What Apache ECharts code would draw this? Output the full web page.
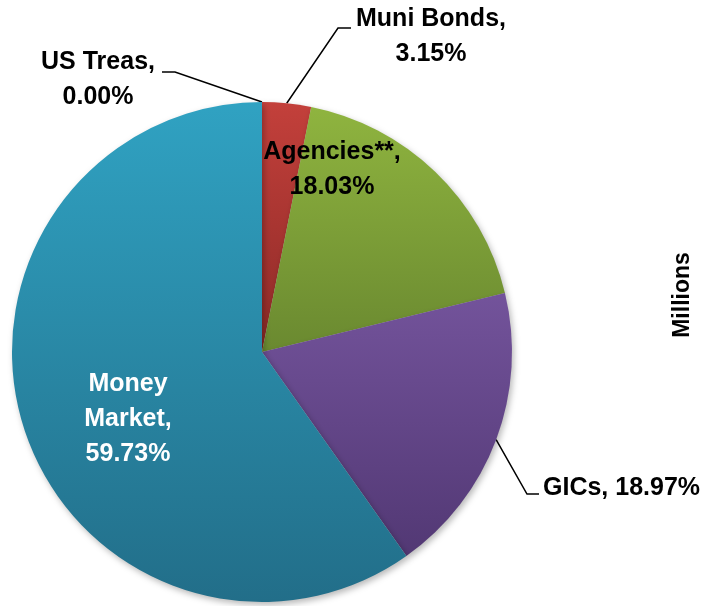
<!DOCTYPE html>
<html>
<head>
<meta charset="utf-8">
<script src="https://cdn.jsdelivr.net/npm/echarts@6/dist/echarts.min.js"></script>
<style>
  html, body { margin: 0; padding: 0; background: #ffffff; }
  #chart { width: 703px; height: 606px; }
</style>
</head>
<body>
<div id="chart"></div>
<script>
// Portfolio allocation by instrument type (percent of total)
const categories = ['US Treas', 'Muni Bonds', 'Agencies**', 'GICs', 'Money Market'];
const shares = [0.00, 3.15, 18.03, 18.97, 59.73];
const unitTitle = 'Millions';

// label text: how the name is wrapped and what separates it from the value
const labelNames = ['US Treas', 'Muni Bonds', 'Agencies**', 'GICs', 'Money\nMarket'];
const labelSeparators = ['\n', '\n', '\n', ' ', '\n'];

// vertical shading per slice
const topColors = ['#4a7cbb', '#c3403b', '#8fb43f', '#73539b', '#30a2c2'];
const bottomColors = ['#2f5688', '#8d2a27', '#6a8930', '#523874', '#226e89'];

const FONT = 'Liberation Sans';
const CX = 262, CY = 352, R = 250;

// label anchor and leader line bends
const placements = [
  { x: 98,  y: 80,  align: 'center', line: [[175, 72], [162, 72]] },
  { x: 431, y: 37,  align: 'center', line: [[338, 28], [351, 28]] },
  { x: 332, y: 170, align: 'center' },
  { x: 543, y: 488, align: 'left',   line: [[527, 494], [539, 494]] },
  { x: 128, y: 419, align: 'center' }
];

const total = shares.reduce((a, b) => a + b, 0);
function edgePoint(i) {
  let before = 0;
  for (let k = 0; k < i; k++) before += shares[k];
  const frac = (before + shares[i] / 2) / total;
  const theta = (90 - frac * 360) * Math.PI / 180;
  return [CX + R * Math.cos(theta), CY - R * Math.sin(theta)];
}

const seriesData = categories.map((name, i) => {
  const inside = (i === 2 || i === 4);
  return {
    name: name,
    value: shares[i],
    itemStyle: {
      color: {
        type: 'linear', x: 0, y: 0, x2: 0, y2: 1,
        colorStops: [
          { offset: 0, color: topColors[i] },
          { offset: 1, color: bottomColors[i] }
        ]
      }
    },
    label: {
      position: inside ? 'inside' : 'outside',
      color: i === 4 ? '#ffffff' : '#000000'
    },
    labelLine: { show: !inside }
  };
});

const chart = echarts.init(document.getElementById('chart'), null, { renderer: 'canvas' });
chart.setOption({
  animation: false,
  backgroundColor: '#ffffff',
  series: [{
    type: 'pie',
    center: [CX, CY],
    radius: R,
    startAngle: 90,
    clockwise: true,
    avoidLabelOverlap: false,
    silent: true,
    itemStyle: {
      borderWidth: 0,
      shadowBlur: 6,
      shadowOffsetX: 2,
      shadowOffsetY: 3,
      shadowColor: 'rgba(0,0,0,0.28)'
    },
    label: {
      show: true,
      fontFamily: FONT,
      fontWeight: 'bold',
      fontSize: 25,
      lineHeight: 35,
      formatter: function (p) {
        const i = p.dataIndex;
        return labelNames[i] + ',' + labelSeparators[i] + shares[i].toFixed(2) + '%';
      }
    },
    labelLine: {
      show: true,
      lineStyle: { color: '#000000', width: 1.5 }
    },
    labelLayout: function (params) {
      const i = params.dataIndex;
      const p = placements[i];
      const out = { x: p.x, y: p.y, align: p.align, verticalAlign: 'middle' };
      if (p.line) {
        out.labelLinePoints = [edgePoint(i), p.line[0], p.line[1]];
      }
      return out;
    },
    emphasis: { disabled: true },
    data: seriesData
  }],
  graphic: [{
    type: 'text',
    x: 683,
    y: 295,
    rotation: Math.PI / 2,
    style: {
      text: unitTitle,
      fontFamily: FONT,
      fontWeight: 'bold',
      fontSize: 23,
      fill: '#000000',
      align: 'center',
      verticalAlign: 'middle'
    }
  }]
});
</script>
</body>
</html>
